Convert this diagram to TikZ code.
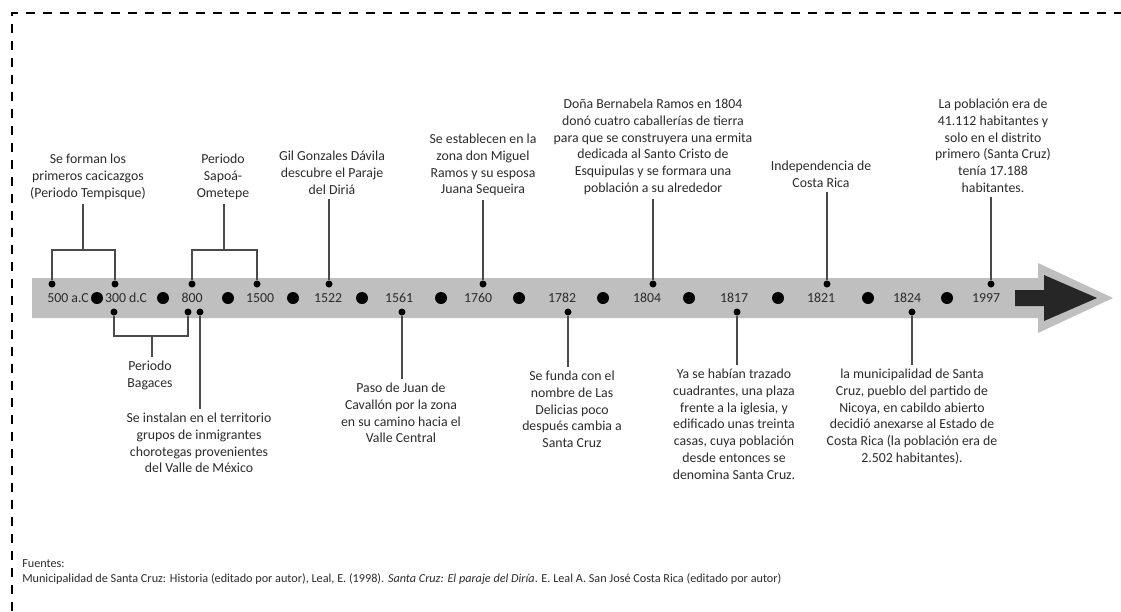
\documentclass[tikz,border=0pt]{standalone}
\usepackage{fontspec}
\setmainfont{Carlito}
\newcommand{\nt}{\fontsize{13.8}{16.7}\selectfont}
\newcommand{\ft}{\fontsize{12.2}{14}\selectfont}
\definecolor{banda}{HTML}{BFBFBF}
\definecolor{flecha}{HTML}{262626}
\definecolor{texto}{HTML}{2B2B2B}
\definecolor{linea}{HTML}{4A4A4A}

\begin{document}
\begin{tikzpicture}[x=1pt, y=-1pt, line width=0.5pt,
  nota/.style={align=center, font=\nt, text=texto, inner sep=4pt, anchor=north},
  anio/.style={font=\nt, text=texto, inner sep=0pt},
  punto/.style={circle, fill=black, inner sep=0pt, minimum size=7pt},
  enlace/.style={draw=linea, line width=1.2pt}]
  \useasboundingbox (0,0) rectangle (1121,611);
  % 테두리(파선)
  \draw[line width=2.5pt, dash pattern=on 9pt off 8pt] (12,611) -- (12,13) -- (1121,13);
  % 띠와 화살표
  \fill[banda] (32,278) -- (1038,278) -- (1038,263) -- (1113,298) -- (1038,333) -- (1038,318) -- (32,318) -- cycle;
  \fill[flecha] (1015,290) -- (1044,290) -- (1044,275) -- (1097,298) -- (1044,321) -- (1044,306) -- (1015,306) -- cycle;
  \foreach \x in {97,163,228,293,362,441,519,603,689,778,868,947}
    \fill (\x,298) circle (6);
  % 연도
  \node[anio] (y500) at (68,298) {500 a.C};
  \node[anio] (y300) at (126,298) {300 d.C};
  \node[anio] (y800) at (192,298) {800};
  \node[anio] (y1500) at (260,298) {1500};
  \node[anio] (y1522) at (328,298) {1522};
  \node[anio] (y1561) at (399,298) {1561};
  \node[anio] (y1760) at (478,298) {1760};
  \node[anio] (y1782) at (562,298) {1782};
  \node[anio] (y1804) at (647,298) {1804};
  \node[anio] (y1817) at (734,298) {1817};
  \node[anio] (y1821) at (821,298) {1821};
  \node[anio] (y1824) at (907,298) {1824};
  \node[anio] (y1997) at (986,298) {1997};
  % 점(위)
  \node[punto] (d500t) at (52,284) {};
  \node[punto] (d300t) at (115,284) {};
  \node[punto] (d800t) at (192,284) {};
  \node[punto] (d1500t) at (257,284) {};
  \node[punto] (d1522) at (329,284) {};
  \node[punto] (d1760) at (483,284) {};
  \node[punto] (d1804) at (653,284) {};
  \node[punto] (d1821) at (827,284) {};
  \node[punto] (d1997) at (991,284) {};
  % 점(아래)
  \node[punto] (d300b) at (114,312) {};
  \node[punto] (d800b) at (188,312) {};
  \node[punto] (d800c) at (200,312) {};
  \node[punto] (d1561) at (402,312) {};
  \node[punto] (d1782) at (568,312) {};
  \node[punto] (d1817) at (737,312) {};
  \node[punto] (d1824) at (912,312) {};
  % 위쪽 글
  \node[nota] (tTemp) at (88,150) {Se forman los\\primeros cacicazgos\\(Periodo Tempisque)};
  \node[nota] (tSapoa) at (223,150) {Periodo\\Sapoá-\\Ometepe};
  \node[nota] (t1522) at (332,147) {Gil Gonzales Dávila\\descubre el Paraje\\del Diriá};
  \node[nota] (t1760) at (483,130) {Se establecen en la\\zona don Miguel\\Ramos y su esposa\\Juana Sequeira};
  \node[nota] (t1804) at (653,95) {Doña Bernabela Ramos en 1804\\donó cuatro caballerías de tierra\\para que se construyera una ermita\\dedicada al Santo Cristo de\\Esquipulas y se formara una\\población a su alrededor};
  \node[nota] (t1821) at (821,157) {Independencia de\\Costa Rica};
  \node[nota] (t1997) at (993,95) {La población era de\\41.112 habitantes y\\solo en el distrito\\primero (Santa Cruz)\\tenía 17.188\\habitantes.};
  % 아래쪽 글
  \node[nota] (tBag) at (150,357) {Periodo\\Bagaces};
  \node[nota] (t800) at (199,409) {Se instalan en el territorio\\grupos de inmigrantes\\chorotegas provenientes\\del Valle de México};
  \node[nota] (t1561) at (401,379) {Paso de Juan de\\Cavallón por la zona\\en su camino hacia el\\Valle Central};
  \node[nota] (t1782) at (572,367) {Se funda con el\\nombre de Las\\Delicias poco\\después cambia a\\Santa Cruz};
  \node[nota] (t1817) at (734,365) {Ya se habían trazado\\cuadrantes, una plaza\\frente a la iglesia, y\\edificado unas treinta\\casas, cuya población\\desde entonces se\\denomina Santa Cruz.};
  \node[nota] (t1824) at (912,365) {la municipalidad de Santa\\Cruz, pueblo del partido de\\Nicoya, en cabildo abierto\\decidió anexarse al Estado de\\Costa Rica (la población era de\\2.502 habitantes).};
  % 괄호 모양 연결선
  \coordinate (bT) at (83,250);
  \coordinate (bS) at (224,250);
  \coordinate (bB) at (152,336);
  \draw[enlace] (d500t.north) |- (bT) -| (d300t.north);
  \draw[enlace] (bT) -- (bT |- tTemp.south);
  \draw[enlace] (d800t.north) |- (bS) -| (d1500t.north);
  \draw[enlace] (bS) -- (bS |- tSapoa.south);
  \draw[enlace] (d300b.south) |- (bB) -| (d800b.south);
  \draw[enlace] (bB) -- (bB |- tBag.north);
  % 곧은 연결선
  \draw[enlace] (d1522.north) -- (d1522 |- t1522.south);
  \draw[enlace] (d1760.north) -- (d1760 |- t1760.south);
  \draw[enlace] (d1804.north) -- (d1804 |- t1804.south);
  \draw[enlace] (d1821.north) -- (d1821 |- t1821.south);
  \draw[enlace] (d1997.north) -- (d1997 |- t1997.south);
  \draw[enlace] (d800c.south) -- (d800c |- t800.north);
  \draw[enlace] (d1561.south) -- (d1561 |- t1561.north);
  \draw[enlace] (d1782.south) -- (d1782 |- t1782.north);
  \draw[enlace] (d1817.south) -- (d1817 |- t1817.north);
  \draw[enlace] (d1824.south) -- (d1824 |- t1824.north);
  % 출처
  \node[anchor=west, font=\ft, text=texto, inner sep=0pt] (fuentes) at (22,564) {Fuentes:};
  \node[anchor=west, font=\ft, text=texto, inner sep=0pt] (ref) at (22,579) {Municipalidad de Santa Cruz: Historia (editado por autor), Leal, E. (1998). \textit{Santa Cruz: El paraje del Diría}. E. Leal A. San José Costa Rica (editado por autor)};
\end{tikzpicture}
\end{document}
